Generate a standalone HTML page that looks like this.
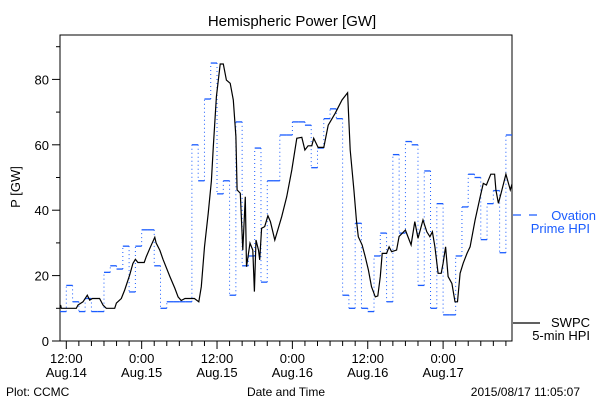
<!DOCTYPE html>
<html><head><meta charset="utf-8"><style>
html,body{margin:0;padding:0;background:#fff;}
svg{display:block;font-family:"Liberation Sans",sans-serif;}
</style></head><body>
<svg id="chart" width="600" height="400" viewBox="0 0 600 400">
<text x="292" y="26" font-size="15" text-anchor="middle">Hemispheric Power [GW]</text>
<text transform="translate(20,187) rotate(-90)" font-size="13" text-anchor="middle">P [GW]</text>
<rect x="60" y="35" width="452" height="306" fill="none" stroke="#000" stroke-width="1"/>
<g id="axes"></g>
<g id="series"></g>
<g>
<line x1="513" y1="215" x2="545" y2="215" stroke="#1a5cff" stroke-width="1.2" stroke-dasharray="8,8"/>
<text x="596" y="220" font-size="13" fill="#1a5cff" text-anchor="end">Ovation</text>
<text x="590" y="233" font-size="13" fill="#1a5cff" text-anchor="end">Prime HPI</text>
</g>
<g>
<line x1="513" y1="323" x2="540" y2="323" stroke="#000" stroke-width="1.2"/>
<text x="590" y="327" font-size="13" text-anchor="end">SWPC</text>
<text x="590" y="340" font-size="13" text-anchor="end">5-min HPI</text>
</g>
<text x="6" y="396" font-size="12">Plot: CCMC</text>
<text x="286" y="396" font-size="12" text-anchor="middle">Date and Time</text>
<text x="580" y="396" font-size="12" text-anchor="end">2015/08/17 11:05:07</text>
</svg>
<script>
// hours relative to Aug.14 12:00
const xTickHours = [0, 12, 24, 36, 48, 60];
const xTickTimes = ["12:00", "0:00", "12:00", "0:00", "12:00", "0:00"];
const xTickDates = ["Aug.14", "Aug.15", "Aug.15", "Aug.16", "Aug.16", "Aug.17"];
const yTicks = [0, 20, 40, 60, 80];
const ovationStart = -1;
const ovationValues = [9,17,12,9,13,9,9,21,23,22,29,15,29,34,34,23,10,12,12,12,12,60,49,74,85,45,49,14,67,23,26,59,18,49,49,63,63,67,67,66,53,59,68,71,68,14,10,36,10,9,26,33,12,57,33,61,60,17,52,10,42,8,8,26,41,51,50,31,42,46,27,63];
const swpcHours = [-1,-0.9,-0.8,0,1.6,1.86,2.66,3.35,3.72,4.15,5.3,5.84,6.37,7.7,7.97,8.76,9.3,10.1,10.6,11.0,11.4,12.4,12.74,13.4,14.1,14.3,14.9,15.4,16.5,17.3,17.8,18.3,18.9,20.4,21.1,21.5,22.0,22.6,23.1,23.4,23.9,24.5,25.0,25.5,26.1,26.6,27.0,27.2,27.7,28.1,28.5,28.7,29.25,29.7,29.95,30.2,30.6,30.8,31.1,31.6,32.1,32.5,33.2,34.3,35.1,35.9,36.7,37.5,38.0,38.5,39.1,39.4,40.1,41.0,41.7,42.8,43.9,44.8,45.2,45.8,46.2,46.5,47.1,47.6,48.1,48.6,49.2,49.6,50.0,50.3,51.0,51.4,51.8,52.6,53.0,54.0,54.9,55.5,56.0,56.8,57.4,57.9,58.3,58.7,59.2,59.7,60.0,60.4,60.8,61.4,61.9,62.3,62.7,63.2,63.8,64.3,65.1,65.9,66.4,66.9,67.6,68.2,68.4,68.8,69.3,70.0,70.7,71.0];
const swpcValues = [10,11,10,10,10,11,12,14,12.5,13,13,11,10,10,11.6,13,15.6,20.2,23.7,25,24,24,25.8,28.8,31.7,30,27.7,25,19.7,16.1,13.5,12.4,13,13,12,16.6,28.8,39,49,59.4,74.7,84.7,84.7,79.8,78.8,73.7,62.5,46.2,45.2,27.8,44.1,22.7,29.9,27.8,15.1,30.9,27.8,24.8,34.5,35,38.3,36.5,30.9,38,44.1,52.3,62,62.3,58.4,59.7,59.7,62,59.2,59.2,66,69.6,73.7,75.9,58.4,46.2,37,31.9,29.4,25.8,21.7,16.6,13.5,13.8,19.7,26.8,26.8,28.8,27.3,27.8,32,33.9,29.4,36.5,31.4,37,33.4,31.9,33.4,28.8,20.7,20.7,23.8,28.8,19.7,17.6,12,12,20.7,23.8,26.8,28.8,37,44.1,48.2,47.7,51,51,46.2,42.1,45.7,51,46.2,48];

const NS = "http://www.w3.org/2000/svg";
const X0 = 66.3, PXH = 6.28, Y0 = 341, PXV = 3.27, LEFT = 60, RIGHT = 512;
function xs(h){ return Math.max(LEFT, Math.min(RIGHT, X0 + h*PXH)); }
function ys(v){ return Y0 - v*PXV; }
function mk(tag, attrs, parent){ const e=document.createElementNS(NS,tag); for(const k in attrs) e.setAttribute(k,attrs[k]); parent.appendChild(e); return e; }
const axes = document.getElementById('axes');
const series = document.getElementById('series');
// y ticks
for (let v = 0; v <= 90; v += 10) {
  const major = v % 20 === 0;
  const t = mk('line',{x1:LEFT-(major?8:4),x2:LEFT,y1:ys(v),y2:ys(v),stroke:'#000','stroke-width':1},axes);
  
  
}
yTicks.forEach(v=>{
  const t = mk('text',{x:LEFT-11,y:ys(v)+5,'font-size':13,'text-anchor':'end'},axes);
  t.textContent = v;
  
  
});
// x ticks
for (let h = 0; h <= 70; h += 2) {
  const major = h % 12 === 0;
  const t = mk('line',{x1:xs(h),x2:xs(h),y1:Y0,y2:Y0+(major?8:5),stroke:'#000','stroke-width':1},axes);
  
  
}
xTickHours.forEach((h,i)=>{
  const a = mk('text',{x:xs(h),y:363,'font-size':13,'text-anchor':'middle'},axes);
  a.textContent = xTickTimes[i];
  
  
  const b = mk('text',{x:xs(h),y:377,'font-size':13,'text-anchor':'middle'},axes);
  b.textContent = xTickDates[i];
  
  
});
// ovation steps
ovationValues.forEach((v,i)=>{
  const h = ovationStart + i;
  const seg = mk('line',{x1:xs(h),x2:xs(h+1),y1:ys(v),y2:ys(v),stroke:'#1a5cff','stroke-width':1.3},series);
  
  
  if (i > 0) {
    const vr = mk('line',{x1:xs(h),x2:xs(h),y1:ys(ovationValues[i-1]),y2:ys(v),stroke:'#1a5cff','stroke-width':1,'stroke-dasharray':'1,3'},series);
    
    
  }
});
// swpc line
const pts = swpcHours.map((h,i)=>xs(h).toFixed(1)+','+ys(swpcValues[i]).toFixed(1)).join(' ');
const pl = mk('polyline',{points:pts,fill:'none',stroke:'#000','stroke-width':1.2},series);


</script>
</body></html>
